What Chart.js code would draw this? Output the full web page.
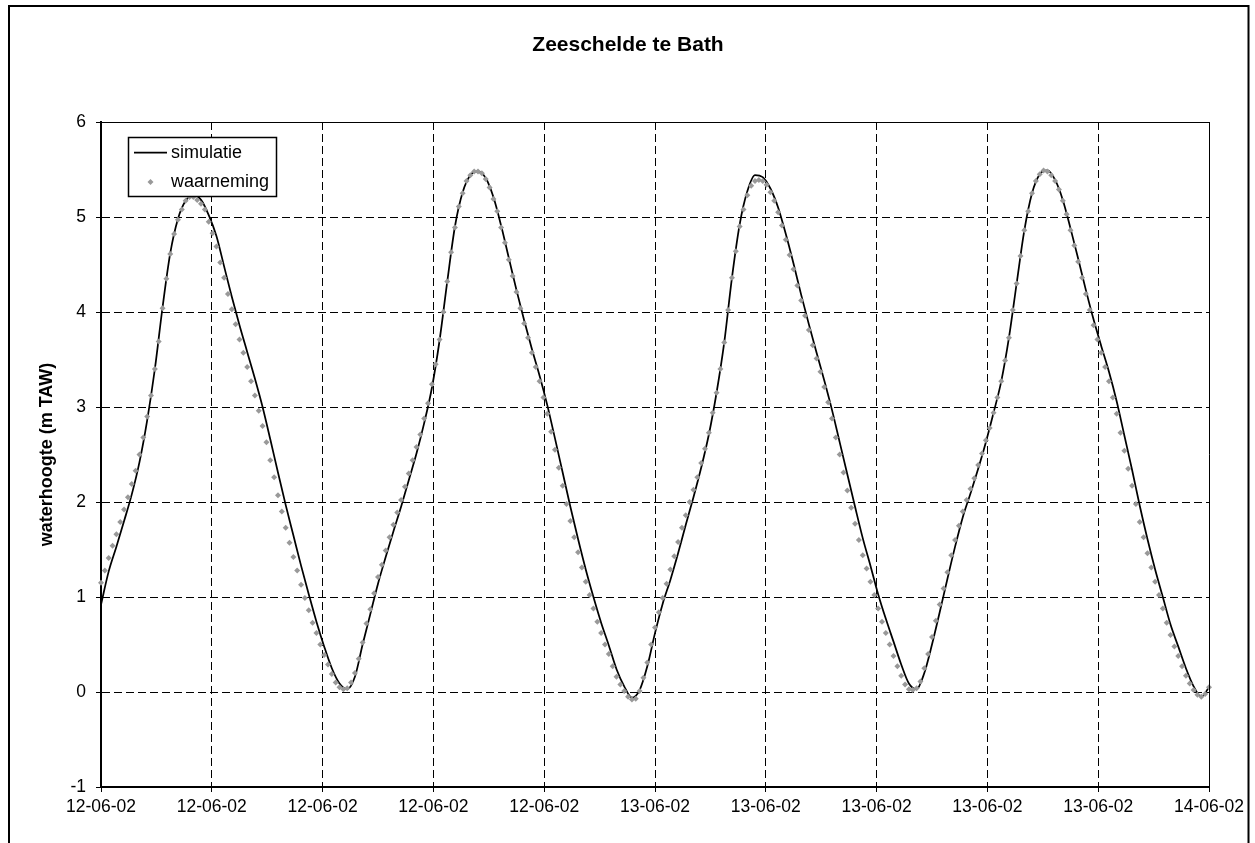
<!DOCTYPE html>
<html>
<head>
<meta charset="utf-8">
<script src="https://cdn.jsdelivr.net/npm/chart.js@4.4.1/dist/chart.umd.min.js"></script>
<style>
  html, body { margin: 0; padding: 0; background: #fff; }
  canvas { display: block; }
</style>
</head>
<body>
<canvas id="chart" width="1255" height="843" style="width:1255px;height:843px"></canvas>
<script>
const chartTitle = 'Zeeschelde te Bath'
const yTitle = 'waterhoogte (m TAW)'

// tijdas: uren vanaf begin, ticks om de 4.8 uur
const xTickHours = [0, 4.8, 9.6, 14.4, 19.2, 24, 28.8, 33.6, 38.4, 43.2, 48]
const xTickLabels = ['12-06-02', '12-06-02', '12-06-02', '12-06-02', '12-06-02',
    '13-06-02', '13-06-02', '13-06-02', '13-06-02', '13-06-02', '14-06-02']
const yTicks = [-1, 0, 1, 2, 3, 4, 5, 6]

// waarneming: elke 10 minuten (m TAW)
const obsStepMin = 10
const waarneming = [
    1.15, 1.28, 1.41, 1.54, 1.66, 1.79, 1.92, 2.05, 2.19, 2.33,
    2.50, 2.68, 2.90, 3.12, 3.40, 3.69, 4.04, 4.35, 4.61, 4.82,
    4.97, 5.08, 5.17, 5.21, 5.21, 5.18, 5.14, 5.08, 4.95, 4.83,
    4.69, 4.52, 4.36, 4.19, 4.03, 3.87, 3.71, 3.57, 3.42, 3.27,
    3.12, 2.96, 2.80, 2.63, 2.44, 2.26, 2.07, 1.90, 1.73, 1.57,
    1.42, 1.28, 1.13, 0.99, 0.86, 0.73, 0.62, 0.50, 0.39, 0.29,
    0.19, 0.10, 0.05, 0.03, 0.04, 0.10, 0.20, 0.35, 0.52, 0.72,
    0.87, 1.04, 1.21, 1.34, 1.49, 1.63, 1.76, 1.89, 2.02, 2.16,
    2.30, 2.44, 2.58, 2.71, 2.88, 3.04, 3.24, 3.45, 3.71, 4.00,
    4.32, 4.63, 4.89, 5.11, 5.25, 5.38, 5.44, 5.48, 5.48, 5.46,
    5.40, 5.31, 5.19, 5.06, 4.89, 4.73, 4.55, 4.38, 4.21, 4.04,
    3.88, 3.73, 3.57, 3.42, 3.27, 3.10, 2.93, 2.74, 2.55, 2.36,
    2.17, 1.98, 1.80, 1.63, 1.47, 1.31, 1.16, 1.02, 0.88, 0.74,
    0.62, 0.50, 0.40, 0.27, 0.16, 0.08, 0.01, -0.05, -0.08, -0.07,
    0.01, 0.15, 0.31, 0.50, 0.68, 0.84, 0.99, 1.14, 1.29, 1.43,
    1.58, 1.73, 1.86, 2.00, 2.13, 2.26, 2.41, 2.56, 2.73, 2.94,
    3.15, 3.40, 3.68, 4.02, 4.36, 4.64, 4.90, 5.08, 5.23, 5.33,
    5.38, 5.39, 5.38, 5.34, 5.26, 5.17, 5.05, 4.91, 4.76, 4.60,
    4.45, 4.28, 4.12, 3.96, 3.81, 3.65, 3.51, 3.37, 3.21, 3.05,
    2.88, 2.68, 2.50, 2.31, 2.12, 1.94, 1.77, 1.60, 1.44, 1.30,
    1.16, 1.02, 0.88, 0.74, 0.62, 0.50, 0.38, 0.27, 0.17, 0.08,
    0.03, 0.02, 0.04, 0.11, 0.25, 0.40, 0.58, 0.75, 0.92, 1.09,
    1.26, 1.44, 1.60, 1.75, 1.90, 2.02, 2.14, 2.25, 2.39, 2.51,
    2.65, 2.78, 2.94, 3.10, 3.27, 3.49, 3.73, 4.02, 4.30, 4.59,
    4.86, 5.06, 5.25, 5.38, 5.45, 5.49, 5.48, 5.44, 5.38, 5.29,
    5.17, 5.03, 4.86, 4.70, 4.53, 4.36, 4.19, 4.02, 3.86, 3.71,
    3.57, 3.42, 3.27, 3.10, 2.93, 2.73, 2.54, 2.35, 2.17, 1.98,
    1.79, 1.63, 1.46, 1.31, 1.16, 1.02, 0.88, 0.73, 0.60, 0.48,
    0.38, 0.27, 0.17, 0.09, 0.02, -0.03, -0.05, -0.02, 0.05
]

// simulatie: elke 20 minuten (m TAW)
const simStepMin = 20
const simulatie = [
    0.92, 1.27, 1.53, 1.80, 2.08, 2.42, 2.86, 3.40, 4.05, 4.62,
    4.98, 5.17, 5.23, 5.18, 5.02, 4.80, 4.48, 4.16, 3.86, 3.58,
    3.30, 3.00, 2.66, 2.31, 1.97, 1.65, 1.33, 1.03, 0.74, 0.48,
    0.25, 0.09, 0.03, 0.16, 0.50, 0.82, 1.14, 1.42, 1.69, 1.95,
    2.23, 2.51, 2.83, 3.20, 3.70, 4.32, 4.90, 5.26, 5.44, 5.48,
    5.41, 5.21, 4.91, 4.57, 4.23, 3.91, 3.61, 3.33, 3.02, 2.67,
    2.31, 1.95, 1.61, 1.29, 1.00, 0.73, 0.49, 0.24, 0.06, -0.06,
    0.02, 0.27, 0.62, 0.93, 1.18, 1.46, 1.76, 2.05, 2.36, 2.71,
    3.15, 3.68, 4.36, 4.92, 5.27, 5.44, 5.42, 5.30, 5.10, 4.82,
    4.51, 4.18, 3.87, 3.57, 3.28, 2.97, 2.63, 2.29, 1.95, 1.62,
    1.33, 1.03, 0.77, 0.53, 0.29, 0.09, 0.03, 0.20, 0.50, 0.84,
    1.19, 1.53, 1.84, 2.09, 2.35, 2.63, 2.94, 3.27, 3.73, 4.30,
    4.86, 5.25, 5.45, 5.49, 5.39, 5.18, 4.88, 4.56, 4.23, 3.92,
    3.64, 3.37, 3.06, 2.70, 2.34, 1.96, 1.61, 1.29, 1.00, 0.71,
    0.48, 0.25, 0.06, -0.05, 0.05
]

const FONT = "'Liberation Sans', Arial, sans-serif"
const grijs = '#999999'

Chart.defaults.font.family = FONT
Chart.defaults.color = '#000'

function toPoints(values, stepMin) {
    return values.map((v, i) => ({ x: i * stepMin / 60, y: v }))
}

// witte achtergrond, buitenkader en titel
const kader = {
    id: 'kader',
    beforeDraw(chart) {
        const ctx = chart.ctx
        ctx.save()
        ctx.fillStyle = '#fff'
        ctx.fillRect(0, 0, chart.width, chart.height)
        ctx.strokeStyle = '#000'
        ctx.lineWidth = 2
        ctx.strokeRect(9, 6, 1239.5, 900)

        ctx.fillStyle = '#000'
        ctx.font = 'bold 21px ' + FONT
        ctx.textAlign = 'center'
        ctx.textBaseline = 'middle'
        ctx.fillText(chartTitle, 628, 45)
        ctx.restore()
    }
}

// dunne rand boven/rechts + legenda in de grafiek
const legenda = {
    id: 'legenda',
    afterDatasetsDraw(chart) {
        const ctx = chart.ctx
        const a = chart.chartArea
        ctx.save()
        ctx.strokeStyle = '#000'
        ctx.lineWidth = 1
        ctx.beginPath()
        ctx.moveTo(a.left, Math.round(a.top) + 0.5)
        ctx.lineTo(Math.round(a.right) + 0.5, Math.round(a.top) + 0.5)
        ctx.lineTo(Math.round(a.right) + 0.5, a.bottom)
        ctx.stroke()

        // legendakader
        ctx.fillStyle = '#fff'
        ctx.fillRect(128.5, 137.5, 148, 59)
        ctx.lineWidth = 1.5
        ctx.strokeRect(128.5, 137.5, 148, 59)

        ctx.lineWidth = 1.75
        ctx.beginPath()
        ctx.moveTo(134, 152.5)
        ctx.lineTo(167, 152.5)
        ctx.stroke()

        ctx.fillStyle = grijs
        ctx.beginPath()
        ctx.moveTo(150.5, 179)
        ctx.lineTo(153.5, 182)
        ctx.lineTo(150.5, 185)
        ctx.lineTo(147.5, 182)
        ctx.closePath()
        ctx.fill()

        ctx.fillStyle = '#000'
        ctx.font = '18px ' + FONT
        ctx.textBaseline = 'middle'
        ctx.fillText(chart.data.datasets[0].label, 171, 153)
        ctx.fillText(chart.data.datasets[1].label, 171, 182)
        ctx.restore()
    }
}

const ctx = document.getElementById('chart').getContext('2d')
const myChart = new Chart(ctx, {
    type: 'line',
    data: {
        datasets: [{
            label: 'simulatie',
            data: toPoints(simulatie, simStepMin),
            borderColor: '#000',
            borderWidth: 1.75,
            pointRadius: 0,
            cubicInterpolationMode: 'monotone',
            clip: 5,
            order: 2
        }, {
            label: 'waarneming',
            data: toPoints(waarneming, obsStepMin),
            showLine: false,
            pointStyle: 'rectRot',
            pointRadius: 3,
            pointBorderWidth: 0,
            backgroundColor: grijs,
            borderColor: grijs,
            clip: 5,
            order: 1
        }]
    },
    options: {
        responsive: false,
        animation: false,
        events: [],
        layout: { padding: { left: 0, top: 122, right: 46, bottom: 0 } },
        plugins: {
            legend: { display: false },
            tooltip: { enabled: false },
            title: { display: false }
        },
        scales: {
            x: {
                type: 'linear',
                min: 0,
                max: 48,
                afterBuildTicks: scale => {
                    scale.ticks = xTickHours.map(v => ({ value: v }))
                },
                afterFit: scale => { scale.height = 56 },
                ticks: {
                    autoSkip: false,
                    maxRotation: 0,
                    padding: 5,
                    font: { size: 17.5 },
                    color: '#000',
                    callback: (value, index) => xTickLabels[index]
                },
                grid: {
                    color: '#000',
                    lineWidth: 1,
                    tickLength: 5,
                    tickColor: '#000'
                },
                border: { display: true, color: '#000', width: 2, dash: [8, 4] }
            },
            y: {
                min: -1,
                max: 6,
                afterBuildTicks: scale => {
                    scale.ticks = yTicks.map(v => ({ value: v }))
                },
                afterFit: scale => { scale.width = 101 },
                ticks: {
                    padding: 10,
                    font: { size: 17.5 },
                    color: '#000'
                },
                grid: {
                    color: '#000',
                    lineWidth: 1,
                    tickLength: 5,
                    tickColor: '#000'
                },
                border: { display: true, color: '#000', width: 2, dash: [8, 4] },
                title: {
                    display: true,
                    text: yTitle,
                    color: '#000',
                    font: { size: 18, weight: 'bold' },
                    padding: { top: 36, bottom: 0 }
                }
            }
        }
    },
    plugins: [kader, legenda]
})
</script>
</body>
</html>
